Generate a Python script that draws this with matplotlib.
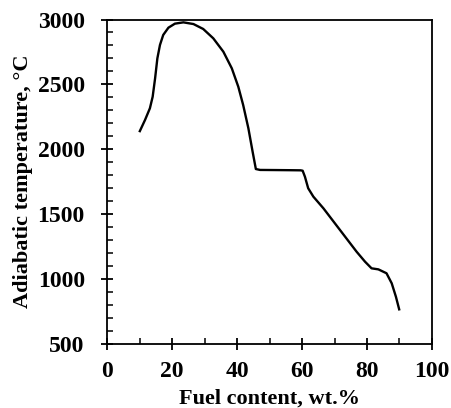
import matplotlib
matplotlib.use("Agg")
import matplotlib.pyplot as plt
from matplotlib.ticker import MultipleLocator

# values
fuel = [10.1, 11.7, 13.2, 14.05, 14.8, 15.5, 16.3, 17.3, 18.9, 20.9, 23.5, 26.6,
        29.6, 32.7, 35.8, 38.4, 40.4, 41.9, 43.5, 44.8, 45.8, 47.1,
        52.0, 56.3, 59.6, 60.2, 60.9, 61.9, 63.5, 66.6, 71.7, 76.8, 79.4,
        81.4, 83.5, 86.0, 87.6, 88.9, 89.9]
temp = [2140, 2226, 2316, 2405, 2547, 2701, 2804, 2881, 2937, 2968, 2978, 2965,
        2927, 2855, 2752, 2624, 2482, 2341, 2162, 1982, 1848, 1841,
        1840, 1839, 1838, 1835, 1789, 1700, 1635, 1545, 1378, 1211, 1134,
        1083, 1075, 1045, 968, 864, 767]

fig = plt.figure(figsize=(4.51, 4.08), dpi=100)
ax = fig.add_axes([107 / 451, 1 - 344 / 408, 325 / 451, 324.5 / 408])

ax.plot(fuel, temp, color="black", lw=1.7)

ax.set_xlim(0, 100)
ax.set_ylim(500, 3000)
ax.xaxis.set_major_locator(MultipleLocator(20))
ax.xaxis.set_minor_locator(MultipleLocator(10))
ax.yaxis.set_major_locator(MultipleLocator(500))
ax.yaxis.set_minor_locator(MultipleLocator(100))
ax.tick_params(which="major", direction="inout", length=8, width=1.3)
ax.tick_params(axis="x", which="major", pad=8)
ax.tick_params(axis="y", which="major", pad=12)
ax.tick_params(which="minor", direction="in", length=4, width=1.1)

for s in ax.spines.values():
    s.set_linewidth(1.3)

font = {"family": "Liberation Serif", "weight": "bold", "size": 16}
for lab in ax.get_xticklabels() + ax.get_yticklabels():
    lab.set_fontfamily("Liberation Serif")
    lab.set_fontweight("bold")
    lab.set_fontsize(17)
ax.set_xlabel("Fuel content, wt.%", fontdict=font, labelpad=5)
ax.set_ylabel("Adiabatic temperature, °C", fontdict=font, labelpad=3)

fig.savefig("out.png", dpi=100)
